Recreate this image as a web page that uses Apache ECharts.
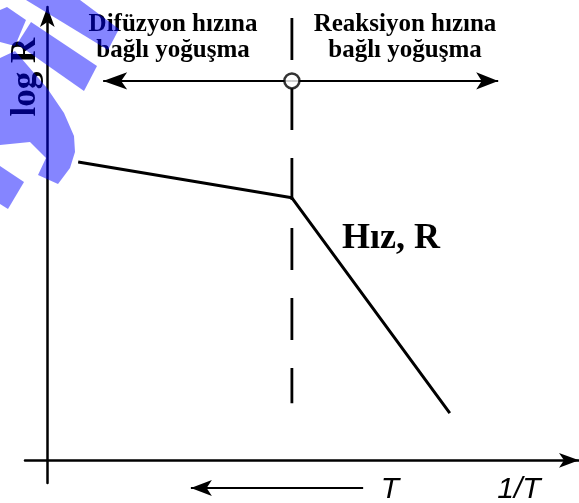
<!DOCTYPE html>
<html>
<head>
<meta charset="utf-8">
<script src="https://cdn.jsdelivr.net/npm/echarts@6/dist/echarts.min.js"></script>
<style>
  html, body { margin: 0; padding: 0; background: #ffffff; }
  #chart { width: 579px; height: 503px; }
</style>
</head>
<body>
<div id="chart"></div>
<script>
// Axis extents (arbitrary units: x = 1/T, y = log R)
const xRange = [-0.42, 10];
const yRange = [-0.5, 10];

// Rate curve: diffusion-limited segment, then reaction-limited segment
const rateX = [0.58, 4.60, 7.57];
const rateY = [6.58, 5.79, 1.04];

// Regime boundary (dashed) and its marker
const boundaryX = 4.60;
const boundaryY = [9.76, 1.26];
const markerY = 8.37;
const regimeArrowLeftX = 1.05;
const regimeArrowRightX = 8.48;

// Increasing-T arrow under the axis (own strip below the plot)
const tArrowX = [5.94, 2.70];
const tArrowY = 0;

// Texts
const regimeLabels = ['Difüzyon hızına\nbağlı yoğuşma', 'Reaksiyon hızına\nbağlı yoğuşma'];
const curveLabel = 'Hız, R';
const yAxisName = 'log R';
const xAxisName = '1/T';
const tLabel = 'T';

const SERIF = '"Liberation Serif", "Times New Roman", serif';
const SANS = '"Liberation Sans", Arial, sans-serif';
const INK = '#000000';

const chart = echarts.init(document.getElementById('chart'), null, { renderer: 'canvas' });

const hiddenAxisParts = {
  axisTick: { show: false },
  axisLabel: { show: false },
  splitLine: { show: false }
};

function arrowEnd(w, h) {
  return { symbol: 'arrow', symbolSize: [w, h] };
}

const arrowLine = {
  silent: true,
  animation: false,
  label: { show: false },
  lineStyle: { color: INK, width: 2, type: 'solid' },
  symbol: ['none', 'arrow']
};

// Decorative stamp shapes drawn over the left edge
const stampShapes = [
  [[26, 0], [80, 0], [119, 29], [108, 50]],
  [[0, 10], [7, 7], [26, 20], [15, 46], [0, 42]],
  [[31, 22], [97, 66], [84, 91], [17, 44]],
  [[0, 58], [15, 51], [47, 88], [64, 113], [74, 136], [75, 152], [70, 168], [58, 184], [38, 175], [46, 158], [30, 142], [0, 145]],
  [[0, 166], [24, 182], [8, 209], [0, 204]]
];

const option = {
  backgroundColor: '#ffffff',
  animation: false,
  grid: [
    { left: 25, right: 0, top: 7, bottom: 20, containLabel: false },
    { left: 25, right: 0, top: 473, height: 30, containLabel: false }
  ],
  xAxis: [
    {
      type: 'value',
      gridIndex: 0,
      min: xRange[0],
      max: xRange[1],
      axisLine: {
        show: true,
        onZero: true,
        symbol: ['none', 'arrow'],
        symbolSize: [11, 20],
        lineStyle: { color: INK, width: 2.5 }
      },
      ...hiddenAxisParts
    },
    { type: 'value', gridIndex: 1, min: xRange[0], max: xRange[1], show: false }
  ],
  yAxis: [
    {
      type: 'value',
      gridIndex: 0,
      min: yRange[0],
      max: yRange[1],
      axisLine: {
        show: true,
        onZero: true,
        symbol: ['none', 'arrow'],
        symbolSize: [11, 20],
        lineStyle: { color: INK, width: 2.5 }
      },
      ...hiddenAxisParts
    },
    { type: 'value', gridIndex: 1, min: -1, max: 1, show: false }
  ],
  series: [
    {
      name: 'rate',
      type: 'line',
      data: rateX.map((x, i) => [x, rateY[i]]),
      symbol: 'none',
      lineStyle: { color: INK, width: 3 },
      z: 5
    },
    {
      name: 'boundary',
      type: 'line',
      data: boundaryY.map(y => [boundaryX, y]),
      symbol: 'none',
      lineStyle: { color: INK, width: 2.8, type: [42, 28] },
      z: 4
    },
    {
      name: 'regimes',
      type: 'line',
      data: [],
      markLine: Object.assign({}, arrowLine, {
        data: [
          [
            { coord: [boundaryX, markerY], symbol: 'none' },
            Object.assign({ coord: [regimeArrowLeftX, markerY] }, arrowEnd(13, 24))
          ],
          [
            { coord: [boundaryX, markerY], symbol: 'none' },
            Object.assign({ coord: [regimeArrowRightX, markerY] }, arrowEnd(13, 22))
          ]
        ]
      }),
      z: 6
    },
    {
      name: 'temperature',
      type: 'line',
      xAxisIndex: 1,
      yAxisIndex: 1,
      data: [],
      markLine: Object.assign({}, arrowLine, {
        data: [
          [
            { coord: [tArrowX[0], tArrowY], symbol: 'none' },
            Object.assign({ coord: [tArrowX[1], tArrowY] }, arrowEnd(12, 21))
          ]
        ]
      }),
      z: 6
    },
    {
      name: 'marker',
      type: 'scatter',
      data: [[boundaryX, markerY]],
      symbol: 'circle',
      symbolSize: 15,
      itemStyle: { color: '#ffffff', borderColor: INK, borderWidth: 2.5 },
      z: 10
    }
  ],
  graphic: [
    {
      type: 'text', x: 173, y: 12, z: 20,
      style: { text: regimeLabels[0], font: 'bold 25px ' + SERIF, fill: INK, align: 'center', verticalAlign: 'top', lineHeight: 26 }
    },
    {
      type: 'text', x: 405, y: 12, z: 20,
      style: { text: regimeLabels[1], font: 'bold 25px ' + SERIF, fill: INK, align: 'center', verticalAlign: 'top', lineHeight: 26 }
    },
    {
      type: 'text', x: 342, y: 239, z: 20,
      style: { text: curveLabel, font: 'bold 36px ' + SERIF, fill: INK, align: 'left', verticalAlign: 'middle' }
    },
    {
      type: 'text', x: 26, y: 77, rotation: Math.PI / 2, z: 20,
      style: { text: yAxisName, font: 'bold 35px ' + SERIF, fill: INK, align: 'center', verticalAlign: 'middle' }
    },
    {
      type: 'text', x: 390, y: 490, z: 20,
      style: { text: tLabel, font: 'italic 30px ' + SANS, fill: INK, align: 'center', verticalAlign: 'middle' }
    },
    {
      type: 'text', x: 519, y: 490, z: 20,
      style: { text: xAxisName, font: 'italic 30px ' + SANS, fill: INK, align: 'center', verticalAlign: 'middle' }
    }
  ].concat(stampShapes.map(points => ({
    type: 'polygon',
    z: 100,
    silent: true,
    shape: { points: points },
    style: { fill: 'rgba(0, 0, 255, 0.48)' }
  })))
};

chart.setOption(option);
</script>
</body>
</html>
